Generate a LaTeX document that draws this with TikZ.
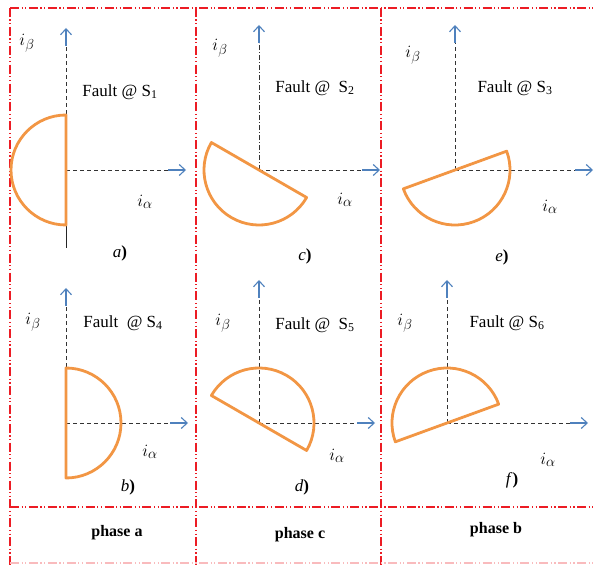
\documentclass[tikz,border=0pt]{standalone}
\usepackage{fontspec}
\setmainfont{Liberation Serif}
\usetikzlibrary{arrows.meta}
\definecolor{arcorange}{RGB}{242,150,68}
\definecolor{axisblue}{RGB}{79,129,189}
\definecolor{framered}{RGB}{236,28,36}

\begin{document}
\begin{tikzpicture}[x=1pt, y=1pt,
    frame/.style={framered, line width=1.1pt, dash pattern=on 9pt off 2.5pt on 1.2pt off 2.5pt on 1.2pt off 2.5pt},
    axis/.style={black!80, line width=0.9pt, dash pattern=on 4pt off 3pt},
    tip/.style={axisblue, line width=1.1pt, -{Straight Barb[length=6pt,width=11pt]}},
    half/.style={arcorange, line width=2.8pt, line join=round},
    lbl/.style={inner sep=0pt, font=\fontsize{17}{20}\selectfont},
    cur/.style={inner sep=0pt, font=\fontsize{17}{20}\selectfont},
    sub/.style={inner sep=0pt, font=\fontsize{19}{22}\selectfont}]
    \useasboundingbox (0,0) rectangle (595,566);

    % frames
    \draw[frame] (10,558) -- (10,0);
    \draw[frame] (196,558) -- (196,0);
    \draw[frame] (381,558) -- (381,0);
    \draw[frame] (10,558) -- (595,558);
    \draw[frame] (10,59) -- (595,59);
    \draw[frame, framered!30] (10,3) -- (595,3);

    % origins and axis tips
    \coordinate (oa) at (66,396);  \coordinate (ya) at (66,538);  \coordinate (xa) at (186,396);
    \coordinate (oc) at (259,396); \coordinate (yc) at (259,541); \coordinate (xc) at (380,396);
    \coordinate (oe) at (455,396); \coordinate (ye) at (455,541); \coordinate (xe) at (593,396);
    \coordinate (ob) at (66,143);  \coordinate (yb) at (66,278);  \coordinate (xb) at (188,143);
    \coordinate (od) at (259,143); \coordinate (yd) at (259,286); \coordinate (xd) at (375,143);
    \coordinate (of) at (447,143); \coordinate (yf) at (447,286); \coordinate (xf) at (588,143);

    % axes
    \foreach \p in {a,c,e,b,d,f}{
        \draw[axis] (o\p) -- ([xshift=-18pt]x\p);
        \draw[tip] ([xshift=-18pt]x\p) -- (x\p);
        \draw[tip] ([yshift=-18pt]y\p) -- (y\p);
    }
    \foreach \p in {a,e,b,d,f}
        \draw[axis] (o\p) -- ([yshift=-18pt]y\p);
    \draw[axis, dash pattern=on 5pt off 2pt on 1pt off 2pt] (oc) -- ([yshift=-18pt]yc);
    \draw[black!85, line width=0.9pt] (oa) -- (66,318);

    % half circles
    \draw[half] (oa) ++(90:55pt) arc (90:270:55pt) -- cycle;
    \draw[half] (oc) ++(150:55pt) arc (150:330:55pt) -- cycle;
    \draw[half] (oe) ++(200:55pt) arc (200:380:55pt) -- cycle;
    \draw[half] (ob) ++(-90:55pt) arc (-90:90:55pt) -- cycle;
    \draw[half] (od) ++(-30:55pt) arc (-30:150:55pt) -- cycle;
    \draw[half] (of) ++(20:55pt) arc (20:200:55pt) -- cycle;

    % labels
    \node[sub] (iba) at (27,523) {$i_\beta$};
    \node[sub] (ibc) at (220,518) {$i_\beta$};
    \node[sub] (ibe) at (413,511) {$i_\beta$};
    \node[sub] (ibb) at (33,244) {$i_\beta$};
    \node[sub] (ibd) at (223,243) {$i_\beta$};
    \node[sub] (ibf) at (405,243) {$i_\beta$};

    \node[sub] (iaa) at (145,364) {$i_\alpha$};
    \node[sub] (iac) at (345,366) {$i_\alpha$};
    \node[sub] (iae) at (550,359) {$i_\alpha$};
    \node[sub] (iab) at (150,114) {$i_\alpha$};
    \node[sub] (iad) at (337,110) {$i_\alpha$};
    \node[sub] (iaf) at (548,106) {$i_\alpha$};

    \node[lbl] (fa) at (120,474) {Fault @ S\textsubscript{1}};
    \node[lbl] (fc) at (315,478) {Fault @\ \ S\textsubscript{2}};
    \node[lbl] (fe) at (515,478) {Fault @ S\textsubscript{3}};
    \node[lbl] (fb) at (123,243) {Fault\ \ @ S\textsubscript{4}};
    \node[lbl] (fd) at (315,241) {Fault @\ \ S\textsubscript{5}};
    \node[lbl] (ff) at (507,243) {Fault @ S\textsubscript{6}};

    \node[cur] (ca) at (120,313) {\textit{a}\textbf{)}};
    \node[cur] (cc) at (305,310) {\textit{c}\textbf{)}};
    \node[cur] (ce) at (502,309) {\textit{e}\textbf{)}};
    \node[cur] (cb) at (128,79) {\textit{b}\textbf{)}};
    \node[cur] (cd) at (302,79) {\textit{d}\textbf{)}};
    \node[cur] (cf) at (512,86) {\textit{f}\textbf{)}};

    \node[lbl, font=\fontsize{16}{19}\selectfont\bfseries] (pa) at (117,33) {phase a};
    \node[lbl, font=\fontsize{16}{19}\selectfont\bfseries] (pc) at (300,31) {phase c};
    \node[lbl, font=\fontsize{16}{19}\selectfont\bfseries] (pb) at (496,36) {phase b};
\end{tikzpicture}
\end{document}
